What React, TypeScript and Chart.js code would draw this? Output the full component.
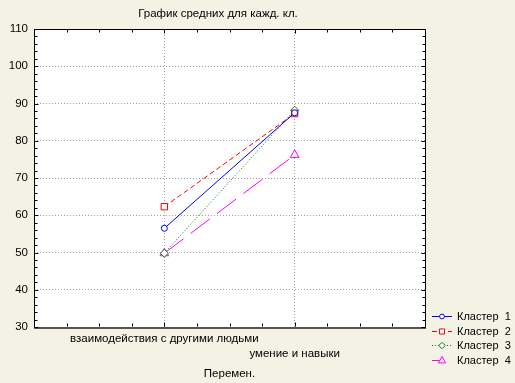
import React, { useEffect, useRef } from 'react';
import { Chart, registerables } from 'chart.js';

Chart.register(...registerables);

const categories = ['взаимодействия с другими людьми', 'умение и навыки'];
const seriesNames = ['Кластер  1', 'Кластер  2', 'Кластер  3', 'Кластер  4'];
const cluster1 = [56.5, 87.5];
const cluster2 = [62.3, 87.3];
const cluster3 = [49.8, 88.2];
const cluster4 = [49.8, 76.2];
const yMin = 30;
const yMax = 110;
const yStep = 10;
const titleText = 'График средних для кажд. кл.';
const xAxisTitle = 'Перемен.';

const FAMILY = '"Liberation Sans", Arial, sans-serif';
const colors = ['#0000ff', '#ff0000', '#008000', '#ff00ff'];
const dashes: number[][] = [[], [5, 3], [1, 2], [24, 9]];
const pointStyles = ['circle', 'rect', 'rectRot', 'triangle'];
const pointRadii = [3, 4.5, 4, 5];
const seriesValues = [cluster1, cluster2, cluster3, cluster4];

function drawMarker(ctx: CanvasRenderingContext2D, style: string, x: number, y: number, r: number) {
  ctx.beginPath();
  if (style === 'circle') {
    ctx.arc(x, y, r, 0, Math.PI * 2);
  } else if (style === 'rect') {
    const s = r * Math.SQRT1_2;
    ctx.rect(x - s, y - s, 2 * s, 2 * s);
  } else if (style === 'rectRot') {
    ctx.moveTo(x, y - r);
    ctx.lineTo(x + r, y);
    ctx.lineTo(x, y + r);
    ctx.lineTo(x - r, y);
    ctx.closePath();
  } else {
    ctx.moveTo(x, y - r);
    ctx.lineTo(x + r * 0.9, y + r * 0.6);
    ctx.lineTo(x - r * 0.9, y + r * 0.6);
    ctx.closePath();
  }
  ctx.fill();
  ctx.stroke();
}

const framePlugin = {
  id: 'statFrame',
  beforeDraw(chart: any) {
    const { ctx, chartArea: a, width, height } = chart;
    ctx.save();
    ctx.fillStyle = '#f4f2e5';
    ctx.fillRect(0, 0, width, height);
    ctx.fillStyle = '#ffffff';
    ctx.fillRect(a.left, a.top, a.right - a.left, a.bottom - a.top);
    ctx.restore();
  },
  afterDraw(chart: any) {
    const { ctx, chartArea: a } = chart;
    const xs = chart.scales.x;
    const ys = chart.scales.y;
    const L = Math.floor(a.left) + 0.5;
    const R = Math.floor(a.right) + 0.5;
    const T = Math.floor(a.top) + 0.5;
    const B = Math.floor(a.bottom) + 0.5;
    ctx.save();
    ctx.lineWidth = 1;
    ctx.strokeStyle = '#000';
    ctx.beginPath();
    ctx.moveTo(L, B); ctx.lineTo(L, T); ctx.lineTo(R, T); ctx.lineTo(R, B);
    ctx.stroke();
    ctx.strokeStyle = '#555';
    ctx.lineWidth = 2;
    ctx.beginPath();
    ctx.moveTo(L - 0.5, B + 0.5); ctx.lineTo(R + 0.5, B + 0.5);
    ctx.stroke();
    ctx.lineWidth = 1;
    ctx.strokeStyle = '#000';
    // y ticks
    ctx.beginPath();
    for (let v = yMin; v <= yMax + 1e-6; v += 2) {
      const py = Math.round(ys.getPixelForValue(v)) + 0.5;
      const len = Math.abs((v - yMin) % yStep) < 1e-6 ? 4 : 3;
      ctx.moveTo(L, py); ctx.lineTo(L + len, py);
      ctx.moveTo(R, py); ctx.lineTo(R - len, py);
    }
    // x ticks
    for (let v = xs.min; v <= xs.max + 1e-6; v += 0.25) {
      const px = Math.round(xs.getPixelForValue(v)) + 0.5;
      const len = Math.abs(v - Math.round(v)) < 1e-6 ? 4 : 3;
      ctx.moveTo(px, T); ctx.lineTo(px, T + len);
      ctx.moveTo(px, B - 1); ctx.lineTo(px, B - 1 - len);
    }
    ctx.stroke();

    // title
    ctx.fillStyle = '#000';
    ctx.font = '11.5px ' + FAMILY;
    ctx.textAlign = 'center';
    ctx.textBaseline = 'middle';
    ctx.fillText(titleText, 218, 14);

    // legend
    ctx.font = '11px ' + FAMILY;
    ctx.textAlign = 'left';
    seriesNames.forEach((name, i) => {
      const y = Math.round(316 + i * 14.5) + 0.5;
      ctx.strokeStyle = colors[i];
      ctx.fillStyle = '#fff';
      ctx.setLineDash(dashes[i].length ? (i === 3 ? [12, 20] : dashes[i]) : []);
      ctx.beginPath();
      ctx.moveTo(432, y); ctx.lineTo(452, y);
      ctx.stroke();
      ctx.setLineDash([]);
      drawMarker(ctx, pointStyles[i], 442, y, pointRadii[i] * 0.8);
      ctx.fillStyle = '#000';
      ctx.fillText(name, 457, y);
    });
    ctx.restore();
  },
};

export default function App() {
  const ref = useRef<HTMLCanvasElement>(null);
  useEffect(() => {
    if (!ref.current) return;
    const datasets = seriesValues.map((vals, i) => ({
      label: seriesNames[i],
      data: vals.map((y, j) => ({ x: j + 1, y })),
      borderColor: colors[i],
      backgroundColor: '#ffffff',
      borderWidth: 1,
      borderDash: dashes[i],
      pointStyle: pointStyles[i] as any,
      pointRadius: pointRadii[i],
      pointBorderColor: colors[i],
      pointBackgroundColor: '#ffffff',
      pointBorderWidth: 1,
      tension: 0,
    }));
    const chart = new Chart(ref.current, {
      type: 'line',
      data: { datasets },
      plugins: [framePlugin],
      options: {
        animation: false,
        responsive: false,
        layout: { padding: { top: 29, right: 90, bottom: 0, left: 0 } },
        plugins: { legend: { display: false }, title: { display: false }, tooltip: { enabled: false } },
        scales: {
          x: {
            type: 'linear',
            min: 0,
            max: categories.length + 1,
            afterFit: (s: any) => { s.height = 56; },
            border: { display: false, dash: [1, 2] },
            grid: {
              drawTicks: false,
              color: (c: any) => {
                const v = c.tick ? c.tick.value : -1;
                return v >= 1 && v <= categories.length ? '#a0a0a0' : 'rgba(0,0,0,0)';
              },
            },
            ticks: {
              stepSize: 1,
              autoSkip: false,
              maxRotation: 0,
              minRotation: 0,
              padding: 5,
              color: '#000',
              font: { size: 11.5, family: FAMILY, lineHeight: 1.25 },
              callback: (v: any) => {
                const i = Number(v) - 1;
                if (Number.isInteger(Number(v)) && i >= 0 && i < categories.length) {
                  return i % 2 === 0 ? categories[i] : ['', categories[i]];
                }
                return '';
              },
            },
            title: {
              display: true,
              text: xAxisTitle,
              color: '#000',
              font: { size: 11.5, family: FAMILY },
              padding: { top: 0, bottom: 2 },
            },
          },
          y: {
            type: 'linear',
            min: yMin,
            max: yMax,
            afterFit: (s: any) => { s.width = 34; },
            border: { display: false, dash: [1, 2] },
            grid: { drawTicks: false, color: '#a0a0a0' },
            ticks: {
              stepSize: yStep,
              padding: 6,
              color: '#000',
              font: { size: 11.5, family: FAMILY },
            },
          },
        },
      },
    });
    return () => chart.destroy();
  }, []);
  return (
    <div style={{ position: 'absolute', left: 0, top: 0, width: 515, height: 383 }}>
      <canvas ref={ref} width={515} height={383} />
    </div>
  );
}
